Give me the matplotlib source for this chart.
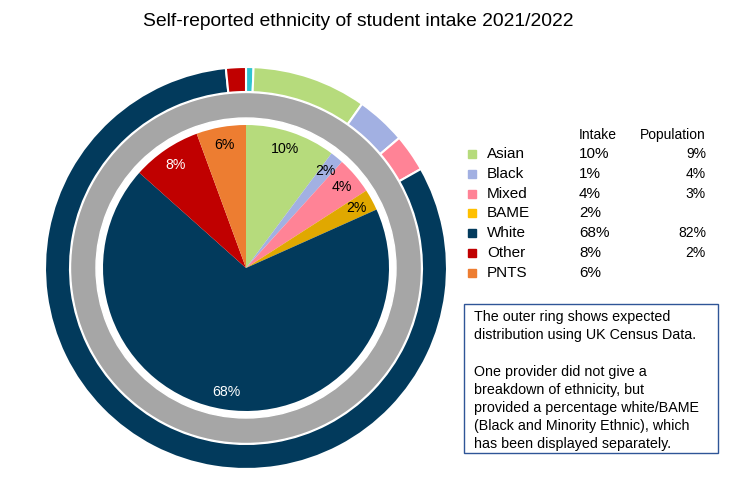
import matplotlib.pyplot as plt
from matplotlib.patches import Rectangle

plt.rcParams['font.family'] = ['Liberation Sans', 'DejaVu Sans']

# inner pie: student intake (%)
categories = ['Asian', 'Black', 'Mixed', 'BAME', 'White', 'Other', 'PNTS']
intake = [10.2, 1.5, 4.2, 2.4, 68.3, 7.8, 5.6]
intake_labels = ['10%', '2%', '4%', '2%', '68%', '8%', '6%']
intake_table = ['10%', '1%', '4%', '2%', '68%', '8%', '6%']
population_table = ['9%', '4%', '3%', '', '82%', '2%', '']

# outer ring: census population (%), first slot is the small unlabelled cyan slice
outer_names = ['', 'Asian', 'Black', 'Mixed', 'White', 'Other']
outer_vals = [0.6, 9.2, 4.0, 3.0, 81.6, 1.6]

inner_colors = ['#B6DB7C', '#A2B0E2', '#FF8396', '#E0A800', '#023A5C', '#C00000', '#ED7D31']
legend_colors = ['#B6DB7C', '#A2B0E2', '#FF8396', '#FFC000', '#023A5C', '#C00000', '#ED7D31']
outer_colors = ['#2EC4D0', '#B6DB7C', '#A2B0E2', '#FF8396', '#023A5C', '#C00000']
label_colors = ['black', 'black', 'black', 'black', 'white', 'white', 'black']

W, H = 741, 498
fig = plt.figure(figsize=(W / 100, H / 100), dpi=100)

# pie axes in pixel units, centre at (246, 268), outer radius 201
cx, cy, R = 246, 268, 201
ax = fig.add_axes([(cx - R) / W, (H - cy - R) / H, 2 * R / W, 2 * R / H])

ax.pie(outer_vals, radius=201, colors=outer_colors, startangle=90, counterclock=False,
       wedgeprops=dict(width=25, edgecolor='white', linewidth=1.5))
ax.pie([1], radius=175.5, colors=['#A6A6A6'], startangle=90,
       wedgeprops=dict(width=25.5, edgecolor='white', linewidth=1))
wedges, texts = ax.pie(intake, radius=143, colors=inner_colors, startangle=90, counterclock=False,
                       labels=intake_labels, labeldistance=0.875,
                       textprops=dict(fontsize=10.2))
for t, c in zip(texts, label_colors):
    t.set_color(c)
    t.set_horizontalalignment('center')
    t.set_verticalalignment('center')
ax.set_xlim(-R, R)
ax.set_ylim(-R, R)
ax.set_aspect('equal')
ax.axis('off')

# overlay axes in pixel coordinates for title, table legend and note box
ov = fig.add_axes([0, 0, 1, 1])
ov.set_xlim(0, W)
ov.set_ylim(H, 0)
ov.axis('off')

ov.text(358, 21, 'Self-reported ethnicity of student intake 2021/2022',
        fontsize=13.9, ha='center', va='center')

ov.text(579, 135, 'Intake', fontsize=10, ha='left', va='center')
ov.text(706, 135, 'Population', fontsize=10, ha='right', va='center')
for i, name in enumerate(categories):
    y = 154 + i * 19.8
    ov.add_patch(Rectangle((468, y - 4), 8, 8, color=legend_colors[i]))
    ov.text(487, y, name, fontsize=11, ha='left', va='center')
    ov.text(579, y, intake_table[i], fontsize=11, ha='left', va='center')
    ov.text(706, y, population_table[i], fontsize=10, ha='right', va='center')

ov.add_patch(Rectangle((464, 304), 254, 149, fill=False, edgecolor='#2F5597', linewidth=1))
note = ['The outer ring shows expected',
        'distribution using UK Census Data.',
        '',
        'One provider did not give a',
        'breakdown of ethnicity, but',
        'provided a percentage white/BAME',
        '(Black and Minority Ethnic), which',
        'has been displayed separately.']
for i, line in enumerate(note):
    ov.text(474, 317 + i * 18.2, line, fontsize=10.3, ha='left', va='center')

fig.savefig('out.png', dpi=100)
